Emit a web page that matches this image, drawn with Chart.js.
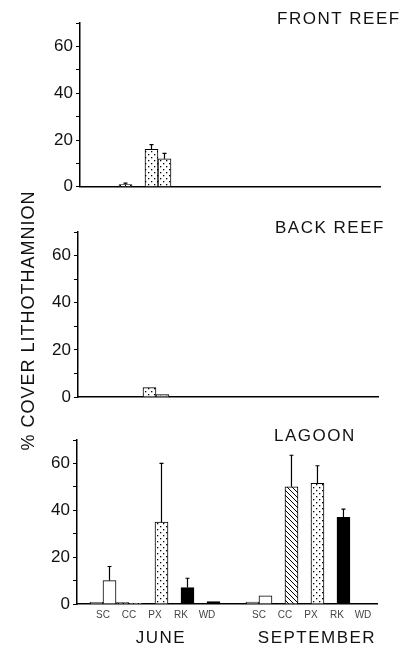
<!DOCTYPE html>
<html>
<head>
<meta charset="utf-8">
<title>% Cover Lithothamnion</title>
<script src="https://cdn.jsdelivr.net/npm/chart.js@4.4.1/dist/chart.umd.min.js"></script>
<style>
  html, body { margin: 0; padding: 0; background: #fff; }
  #figure { position: relative; width: 408px; height: 653px; overflow: hidden; }
  #figure canvas { position: absolute; left: 0; }
</style>
</head>
<body>
<div id="figure">
  <canvas id="frontReefChart" width="408" height="200" style="top:0px"></canvas>
  <canvas id="backReefChart" width="408" height="280" style="top:180px"></canvas>
  <canvas id="lagoonChart" width="408" height="233" style="top:420px"></canvas>
</div>
<script>
// Categories
const months = ['JUNE', 'SEPTEMBER'];
const substrates = ['SC', 'CC', 'PX', 'RK', 'WD'];
const yTickLabels = [0, 20, 40, 60];
const yAxisTitle = '% COVER LITHOTHAMNION';

// Values: June SC..WD, then September SC..WD (left and right bar of each pair)
const frontLeft      = [0, 1, 16, 0, 0,   0, 0, 0, 0, 0];
const frontRight     = [0, 0, 12, 0, 0,   0, 0, 0, 0, 0];
const frontLeftErr   = [null, 1.6, 18, null, null,   null, null, null, null, null];
const frontRightErr  = [null, null, 14.3, null, null,   null, null, null, null, null];

const backLeft       = [0, 0, 4, 0, 0,   0, 0, 0, 0, 0];
const backRight      = [0, 0, 1, 0, 0,   0, 0, 0, 0, 0];

const lagoonLeft     = [0.7, 0.6, 0, 0, 0,   0.8, 0, 0, 0, 0];
const lagoonRight    = [10, 0.3, 35, 7, 1,   3.5, 50, 51.5, 37, 0];
const lagoonRightErr = [16, null, 60, 11, null,   null, 63.5, 59, 40.5, null];

document.addEventListener('DOMContentLoaded', function() {
    const FONT = '"Liberation Sans", Arial, Helvetica, sans-serif';
    Chart.defaults.font.family = FONT;

    // Fill patterns for the substrate types
    function makePattern(size, draw) {
        const c = document.createElement('canvas');
        c.width = size;
        c.height = size;
        const g = c.getContext('2d');
        g.fillStyle = '#fff';
        g.fillRect(0, 0, size, size);
        g.fillStyle = '#000';
        g.strokeStyle = '#000';
        draw(g, size);
        return g.createPattern(c, 'repeat');
    }

    const hatch = makePattern(5, function(g, s) {
        g.lineWidth = 1;
        g.beginPath();
        g.moveTo(-1, -1); g.lineTo(s + 1, s + 1);
        g.moveTo(-1, s - 1); g.lineTo(1, s + 1);
        g.moveTo(s - 1, -1); g.lineTo(s + 1, 1);
        g.stroke();
    });

    const dots = makePattern(6, function(g) {
        g.fillRect(1, 1, 1.3, 1.3);
        g.fillRect(4, 4, 1.3, 1.3);
    });

    const substrateFills = { SC: '#fff', CC: hatch, PX: dots, RK: '#000', WD: '#000' };

    function fillFor(index) {
        return substrateFills[substrates[index % substrates.length]];
    }

    // June sits at 1..5, September at 7..11 on the x axis
    function xPos(i) {
        return i < substrates.length ? i + 1 : i + 2;
    }

    const tickPositions = months.flatMap((m, mi) => substrates.map((s, si) => xPos(mi * substrates.length + si)));

    function toPoints(values) {
        return values.map((v, i) => ({ x: xPos(i), y: v }));
    }

    function labelAt(v) {
        if (!tickPositions.includes(v)) return '';
        return substrates[tickPositions.indexOf(v) % substrates.length];
    }

    // Error bars drawn from the bar top up to the given value
    const errorBars = {
        id: 'errorBars',
        afterDatasetsDraw(chart) {
            const ctx = chart.ctx;
            const yScale = chart.scales.y;
            ctx.save();
            ctx.strokeStyle = '#000';
            ctx.lineWidth = 1.2;
            chart.data.datasets.forEach((ds, i) => {
                if (!ds.errorTops) return;
                chart.getDatasetMeta(i).data.forEach((bar, j) => {
                    const top = ds.errorTops[j];
                    if (top === null || top === undefined) return;
                    const yTop = yScale.getPixelForValue(top);
                    ctx.beginPath();
                    ctx.moveTo(bar.x, bar.y);
                    ctx.lineTo(bar.x, yTop);
                    ctx.moveTo(bar.x - 2, yTop);
                    ctx.lineTo(bar.x + 2, yTop);
                    ctx.stroke();
                });
            });
            ctx.restore();
        }
    };

    // Panel label, month names and the shared y title
    const panelText = {
        id: 'panelText',
        afterDraw(chart, args, opts) {
            const ctx = chart.ctx;
            const area = chart.chartArea;
            ctx.save();
            ctx.fillStyle = '#111';
            ctx.font = '17px ' + FONT;
            ctx.letterSpacing = '1.5px';
            ctx.textAlign = 'left';
            ctx.textBaseline = 'alphabetic';
            ctx.fillText(opts.label, area.left + 197, area.top + 1);

            if (opts.months) {
                const xScale = chart.scales.x;
                ctx.textAlign = 'center';
                ctx.textBaseline = 'middle';
                months.forEach((m, i) => {
                    const first = xScale.getPixelForValue(tickPositions[i * substrates.length]);
                    const last = xScale.getPixelForValue(tickPositions[(i + 1) * substrates.length - 1]);
                    ctx.fillText(m, (first + last) / 2 + 6, area.bottom + 34);
                });
            }

            if (opts.yTitle) {
                ctx.font = '18px ' + FONT;
                ctx.letterSpacing = '1px';
                ctx.translate(29, (area.top + area.bottom) / 2 + 6);
                ctx.rotate(-Math.PI / 2);
                ctx.textAlign = 'center';
                ctx.textBaseline = 'middle';
                ctx.fillText(opts.yTitle, 0, 0);
            }
            ctx.restore();
        }
    };

    function dataset(values, errs) {
        return {
            data: toPoints(values),
            errorTops: errs || null,
            backgroundColor: ctx => fillFor(ctx.dataIndex),
            borderColor: '#000',
            borderWidth: 1,
            barThickness: 13,
            borderSkipped: 'start'
        };
    }

    function buildPanel(canvasId, left, right, leftErr, rightErr, panel) {
        const ctx = document.getElementById(canvasId).getContext('2d');
        return new Chart(ctx, {
            type: 'bar',
            data: {
                datasets: [dataset(left, leftErr), dataset(right, rightErr)]
            },
            options: {
                responsive: false,
                animation: false,
                layout: {
                    padding: { top: panel.padTop, bottom: panel.padBottom, left: 0, right: panel.padRight }
                },
                plugins: {
                    legend: { display: false },
                    tooltip: { enabled: false },
                    panelText: { label: panel.label, months: panel.showLabels, yTitle: panel.yTitle }
                },
                scales: {
                    x: {
                        type: 'linear',
                        min: 0,
                        max: 11.54,
                        offset: false,
                        afterBuildTicks: s => { s.ticks = tickPositions.map(v => ({ value: v })); },
                        ticks: {
                            display: panel.showLabels,
                            autoSkip: false,
                            maxRotation: 0,
                            color: '#444',
                            font: { size: 10 },
                            padding: 5,
                            callback: v => labelAt(v)
                        },
                        grid: { display: false, drawTicks: false },
                        border: { display: true, color: '#000', width: 1.5 },
                        afterFit: s => { s.height = panel.axisHeight; }
                    },
                    y: {
                        min: 0,
                        max: 70,
                        ticks: {
                            stepSize: 10,
                            color: '#111',
                            font: { size: 17 },
                            padding: 3,
                            callback: v => yTickLabels.includes(v) ? String(v) : ''
                        },
                        grid: {
                            display: true,
                            drawOnChartArea: false,
                            drawTicks: true,
                            tickLength: 4,
                            color: '#000',
                            lineWidth: 1
                        },
                        border: { display: true, color: '#000', width: 1.5 },
                        afterFit: s => { s.width = panel.axisLeft; }
                    }
                }
            },
            plugins: [errorBars, panelText]
        });
    }

    buildPanel('frontReefChart', frontLeft, frontRight, frontLeftErr, frontRightErr, {
        label: 'FRONT REEF', padTop: 23, padBottom: 12, padRight: 28,
        axisLeft: 80, axisHeight: 0, showLabels: false
    });

    buildPanel('backReefChart', backLeft, backRight, null, null, {
        label: 'BACK REEF', padTop: 52, padBottom: 63, padRight: 30,
        axisLeft: 78, axisHeight: 0, showLabels: false, yTitle: yAxisTitle
    });

    buildPanel('lagoonChart', lagoonLeft, lagoonRight, null, lagoonRightErr, {
        label: 'LAGOON', padTop: 20, padBottom: 0, padRight: 31,
        axisLeft: 77, axisHeight: 49, showLabels: true
    });
});
</script>
</body>
</html>
